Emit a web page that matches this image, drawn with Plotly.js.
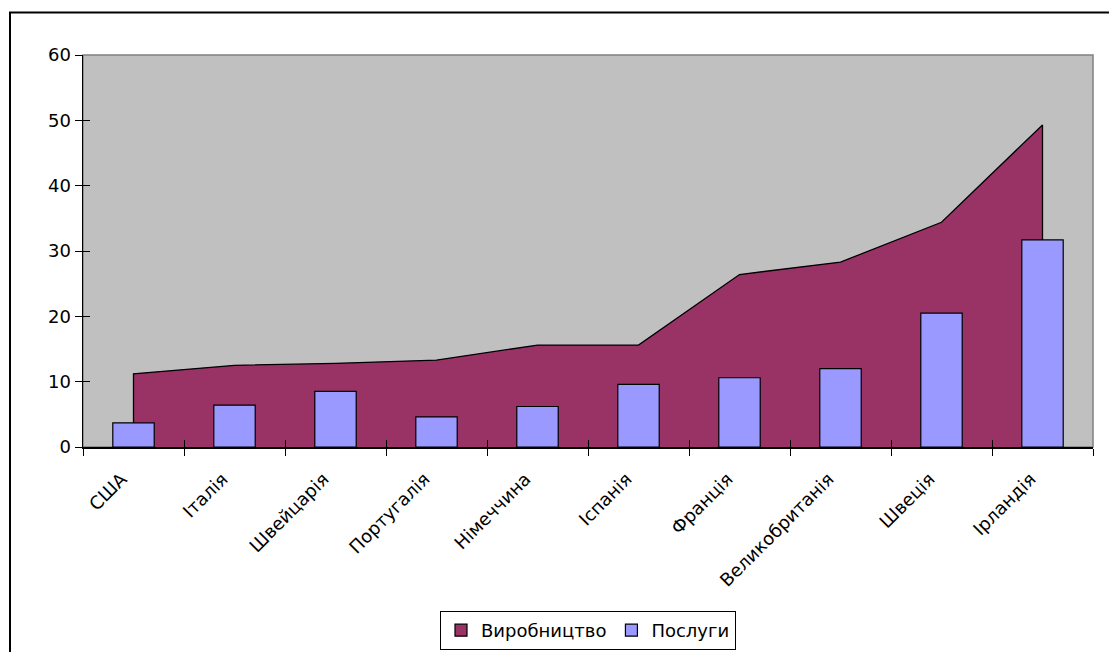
<!DOCTYPE html>
<html>
<head>
<meta charset="utf-8">
<script src="https://cdn.plot.ly/plotly-3.0.1.min.js"></script>
<style>
  html, body { margin: 0; padding: 0; background: #ffffff; }
  #chart { width: 1109px; height: 652px; }
</style>
</head>
<body>
<div id="chart"></div>
<script>
// ---- data ----
const countries = ['США', 'Італія', 'Швейцарія', 'Португалія', 'Німеччина', 'Іспанія', 'Франція', 'Великобританія', 'Швеція', 'Ірландія'];
const vyrobnytstvo = [11.2, 12.5, 12.8, 13.3, 15.6, 15.6, 26.4, 28.3, 34.4, 49.3];
const posluhy = [3.7, 6.4, 8.5, 4.6, 6.2, 9.6, 10.6, 12.0, 20.5, 31.7];
const seriesNames = ['Виробництво', 'Послуги'];
const yTicks = [0, 10, 20, 30, 40, 50, 60];

// ---- layout geometry ----
const W = 1109, H = 652;
const M = { l: 83, r: 16, t: 55, b: 205 };
const pw = W - M.l - M.r, ph = H - M.t - M.b;
const px2x = p => (p - M.l) / pw;
const py2y = p => (H - M.b - p) / ph;

const font = 'DejaVu Sans, Verdana, sans-serif';
const areaColor = '#993366';
const barColor = '#9999ff';

// area polygon closed down to zero at both ends (built from data arrays)
const areaX = [countries[0]].concat(countries, [countries[countries.length - 1]]);
const areaY = [0].concat(vyrobnytstvo, [0]);

const traces = [
  {
    type: 'scatter', mode: 'lines',
    x: areaX, y: areaY,
    fill: 'tozeroy', fillcolor: areaColor,
    line: { color: '#000000', width: 1.3 },
    name: seriesNames[0], showlegend: false, hoverinfo: 'skip',
    xaxis: 'x', yaxis: 'y'
  },
  {
    type: 'bar', x: [null], y: [null],
    name: seriesNames[0],
    marker: { color: areaColor, line: { color: '#000000', width: 1.2 } },
    xaxis: 'x2', yaxis: 'y2', showlegend: true
  },
  {
    type: 'bar', x: countries, y: posluhy,
    name: seriesNames[1], width: 0.41,
    marker: { color: barColor, line: { color: '#000000', width: 1.2 } },
    xaxis: 'x2', yaxis: 'y2', showlegend: true
  }
];

const commonX = {
  type: 'category', categoryorder: 'array', categoryarray: countries,
  range: [-0.5, countries.length - 0.5],
  tickson: 'boundaries', ticklen: 7, tickwidth: 1, tickcolor: '#000000',
  showgrid: false, zeroline: false,
  showline: true, linecolor: '#000000', linewidth: 1.5
};
const commonY = {
  range: [0, 60], tickmode: 'array', tickvals: yTicks,
  ticklen: 7, tickwidth: 1, tickcolor: '#000000',
  showgrid: false, zeroline: false,
  showline: true, linecolor: '#000000', linewidth: 1.5
};

const layout = {
  width: W, height: H,
  margin: M,
  paper_bgcolor: '#ffffff', plot_bgcolor: '#c0c0c0',
  font: { family: font, size: 18, color: '#000000' },
  barmode: 'overlay',
  showlegend: true,
  xaxis: Object.assign({}, commonX, {
    ticks: 'outside', tickangle: -45,
    ticklabelshift: -12, ticklabelstandoff: 13,
    tickfont: { family: font, size: 18, color: '#000000' }
  }),
  yaxis: Object.assign({}, commonY, {
    ticks: 'outside', ticktext: yTicks.map(String),
    tickfont: { family: font, size: 18, color: '#000000' }
  }),
  xaxis2: Object.assign({}, commonX, {
    overlaying: 'x', anchor: 'y2', ticks: 'inside', showticklabels: false
  }),
  yaxis2: Object.assign({}, commonY, {
    overlaying: 'y', anchor: 'x2', ticks: 'inside', showticklabels: false
  }),
  legend: {
    orientation: 'h', x: 0.5, xanchor: 'center',
    yref: 'container', y: 1 - 611 / H, yanchor: 'top',
    bgcolor: '#ffffff', bordercolor: '#000000', borderwidth: 1,
    font: { family: font, size: 18, color: '#000000' },
    traceorder: 'normal', itemwidth: 30
  },
  shapes: [
    { type: 'rect', xref: 'paper', yref: 'paper', layer: 'below',
      x0: 0, x1: 1, y0: 0, y1: 1,
      line: { color: '#808080', width: 1.5 } },
    { type: 'rect', xref: 'paper', yref: 'paper', layer: 'above',
      x0: px2x(10), x1: px2x(W + 20), y0: py2y(H + 20), y1: py2y(12.5),
      line: { color: '#000000', width: 2 } }
  ]
};

Plotly.newPlot('chart', traces, layout, { displayModeBar: false, staticPlot: true });
</script>
</body>
</html>
